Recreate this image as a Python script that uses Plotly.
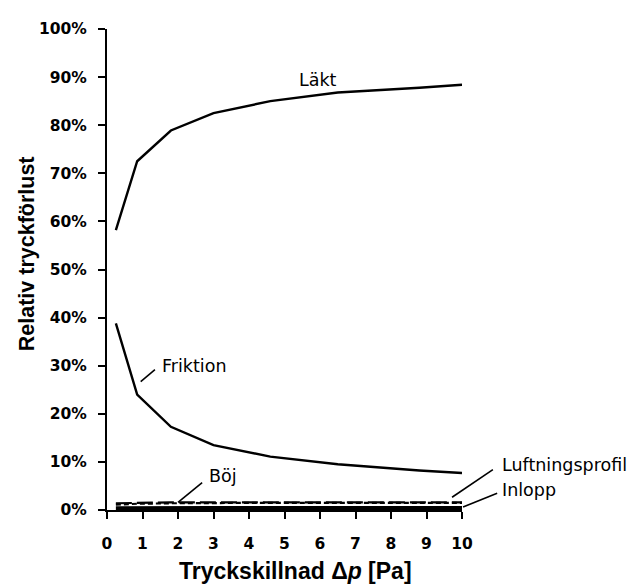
import plotly.graph_objects as go

x_pa = [0.25, 0.85, 1.8, 3.0, 4.6, 6.5, 8.8, 10.0]
lakt = [58.2, 72.5, 78.9, 82.5, 85.0, 86.8, 87.8, 88.4]
friktion = [38.8, 24.0, 17.3, 13.5, 11.1, 9.5, 8.2, 7.7]
boj = [1.1, 1.3, 1.4, 1.5, 1.5, 1.5, 1.5, 1.5]
luftningsprofil = [1.4, 1.5, 1.6, 1.6, 1.6, 1.6, 1.6, 1.6]
inlopp = [0.35, 0.4, 0.4, 0.4, 0.4, 0.4, 0.4, 0.4]

x_ticks = list(range(0, 11))
y_ticks = list(range(0, 101, 10))

FONT = "Liberation Sans, Arial, sans-serif"
WIDE = "DejaVu Sans, Verdana, sans-serif"

X_MAX = 10.0
Y_MAX = 100.0

fig = go.Figure()
series = [
    ("Läkt", lakt, dict(color="black", width=2.4)),
    ("Friktion", friktion, dict(color="black", width=2.4)),
    ("Böj", boj, dict(color="black", width=2.2, dash="5px,3px")),
    ("Luftningsprofil", luftningsprofil, dict(color="black", width=2.2, dash="16px,5px")),
    ("Inlopp", inlopp, dict(color="black", width=4)),
]
for name, vals, line in series:
    fig.add_trace(go.Scatter(x=x_pa, y=vals, mode="lines", name=name, line=line,
                             cliponaxis=False, showlegend=False))

# labels (text + leader lines), positions in data units
labels = [
    ("Läkt", 5.94, 89.4, "center", None),
    ("Friktion", 1.49, 30.0, "left", (0.95, 26.7, 1.35, 29.2)),
    ("Böj", 2.82, 7.1, "left", (2.0, 1.6, 2.68, 5.7)),
    ("Luftningsprofil", 11.07, 9.4, "left", (9.72, 2.65, 10.87, 8.4)),
    ("Inlopp", 11.07, 4.1, "left", (10.03, 0.6, 10.99, 3.5)),
]
for text, tx, ty, anchor, seg in labels:
    fig.add_annotation(x=tx / X_MAX, y=ty / Y_MAX, xref="paper", yref="paper",
                       text=text, showarrow=False,
                       xanchor=anchor, yanchor="middle",
                       font=dict(family=WIDE, size=17.5, color="black"))
    if seg:
        x0, y0, x1, y1 = seg
        fig.add_shape(type="line", xref="paper", yref="paper",
                      x0=x0 / X_MAX, y0=y0 / Y_MAX, x1=x1 / X_MAX, y1=y1 / Y_MAX,
                      line=dict(color="black", width=1.6))

# axis titles
fig.add_annotation(x=0.531, y=-0.1265, xref="paper", yref="paper",
                   text="<b>Tryckskillnad Δ<i>p</i> [Pa]</b>", showarrow=False,
                   xanchor="center", yanchor="middle",
                   font=dict(family=FONT, size=23, color="black"))
fig.add_annotation(x=-0.225, y=0.532, xref="paper", yref="paper",
                   text="<b>Relativ tryckförlust</b>", showarrow=False, textangle=-90,
                   xanchor="center", yanchor="middle",
                   font=dict(family=FONT, size=21.5, color="black"))

fig.update_layout(
    width=640, height=585,
    margin=dict(l=99, r=186, t=12, b=83),
    paper_bgcolor="white", plot_bgcolor="white",
    font=dict(family=FONT, color="black"),
)
fig.update_xaxes(
    range=[0, X_MAX], tickvals=x_ticks, ticktext=[str(v) for v in x_ticks],
    showgrid=False, zeroline=False, showline=True, linecolor="black", linewidth=2.2,
    ticks="outside", ticklen=7, tickwidth=2.2, tickcolor="black",
    ticklabelstandoff=11,
    tickfont=dict(family=WIDE, size=15.5, color="black", weight="bold"),
)
fig.update_yaxes(
    range=[0, Y_MAX], tickvals=y_ticks, ticktext=[f"{v}%" for v in y_ticks],
    showgrid=False, zeroline=False, showline=True, linecolor="black", linewidth=2.2,
    ticks="outside", ticklen=7, tickwidth=2.2, tickcolor="black",
    ticklabelstandoff=8,
    tickfont=dict(family=WIDE, size=15.5, color="black", weight="bold"),
)

fig.write_html("out.html")
